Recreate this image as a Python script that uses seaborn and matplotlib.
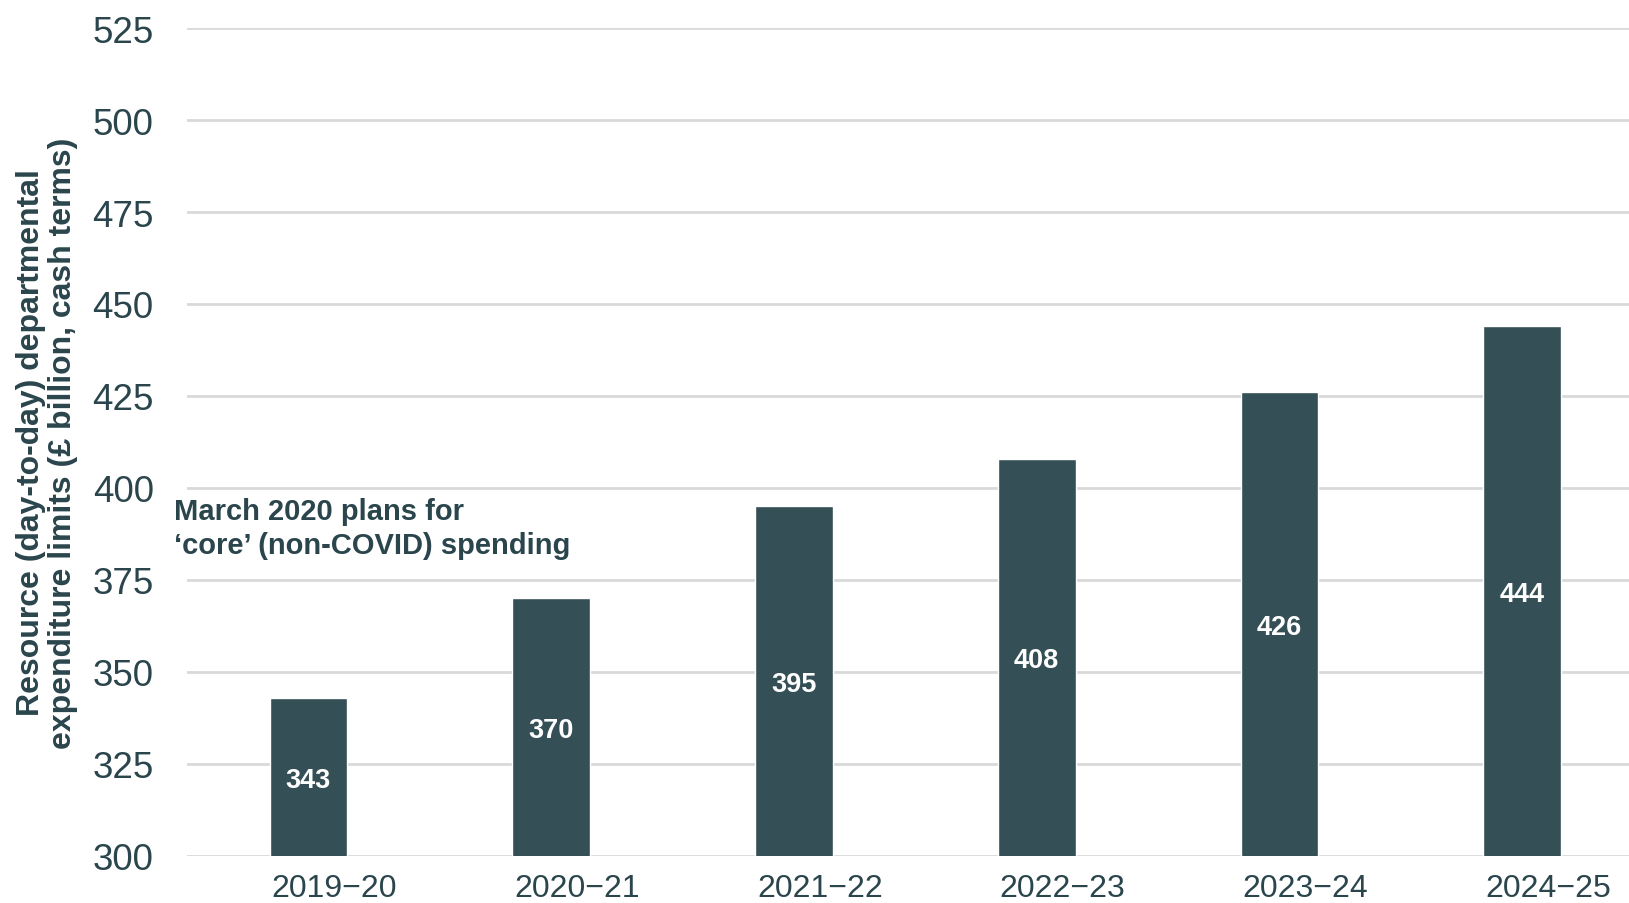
import matplotlib
matplotlib.use("Agg")
import matplotlib.pyplot as plt
import matplotlib.transforms as mtransforms
import seaborn as sns
import pandas as pd

# Departmental resource spending plans, £ billion (cash terms)
years = ["2019\u221220", "2020\u221221", "2021\u221222", "2022\u221223", "2023\u221224", "2024\u221225"]
spending = [343, 370, 395, 408, 426, 444]
y_ticks = [300, 325, 350, 375, 400, 425, 450, 475, 500, 525]

bar_color = "#344F55"
text_color = "#2A454C"
grid_color = "#D9D9D9"

sns.set_theme(style="white")
plt.rcParams["font.family"] = ["Liberation Sans", "DejaVu Sans"]

df = pd.DataFrame({"year": years, "spending": spending})

fig = plt.figure(figsize=(16.29, 9.04), dpi=100)
ax = fig.add_axes([187 / 1629, 1 - 857 / 904, 1 - 187 / 1629, (857 - 29) / 904])

sns.barplot(data=df, x="year", y="spending", color=bar_color, width=0.32,
            saturation=1, ax=ax, zorder=3)

ax.set_ylim(300, 525)
ax.set_xlim(-0.5, 5.44)
ax.set_yticks(y_ticks)
ax.yaxis.grid(True, color=grid_color, linewidth=2, zorder=0)
ax.xaxis.grid(False)
for s in ax.spines.values():
    s.set_visible(False)

ax.tick_params(axis="y", length=0, pad=24, labelsize=26.5, labelcolor=text_color)
ax.tick_params(axis="x", length=0, pad=12.5, labelsize=23, labelcolor=text_color)

# nudge category labels slightly to the right of the bar centres
shift = mtransforms.ScaledTranslation(26 / 100, 0, fig.dpi_scale_trans)
for lab in ax.get_xticklabels():
    lab.set_transform(lab.get_transform() + shift)

ax.set_xlabel("")
ax.set_ylabel("Resource (day-to-day) departmental\nexpenditure limits (£ billion, cash terms)",
              fontsize=23, fontweight="bold", color=text_color, labelpad=10,
              linespacing=1.1)

# value labels in the middle of the visible part of each bar
bottom = ax.get_ylim()[0]
for i, v in enumerate(spending):
    ax.text(i, (bottom + v) / 2 - 0.8, f"{v}", ha="center", va="center",
            fontsize=19.5, fontweight="bold", color="white", zorder=4)

ax.text(-0.555, 397.6, "March 2020 plans for\n\u2018core\u2019 (non-COVID) spending",
        ha="left", va="top", fontsize=21, fontweight="bold", color=text_color,
        linespacing=1.26, zorder=4)

fig.savefig("out.png", dpi=100)
